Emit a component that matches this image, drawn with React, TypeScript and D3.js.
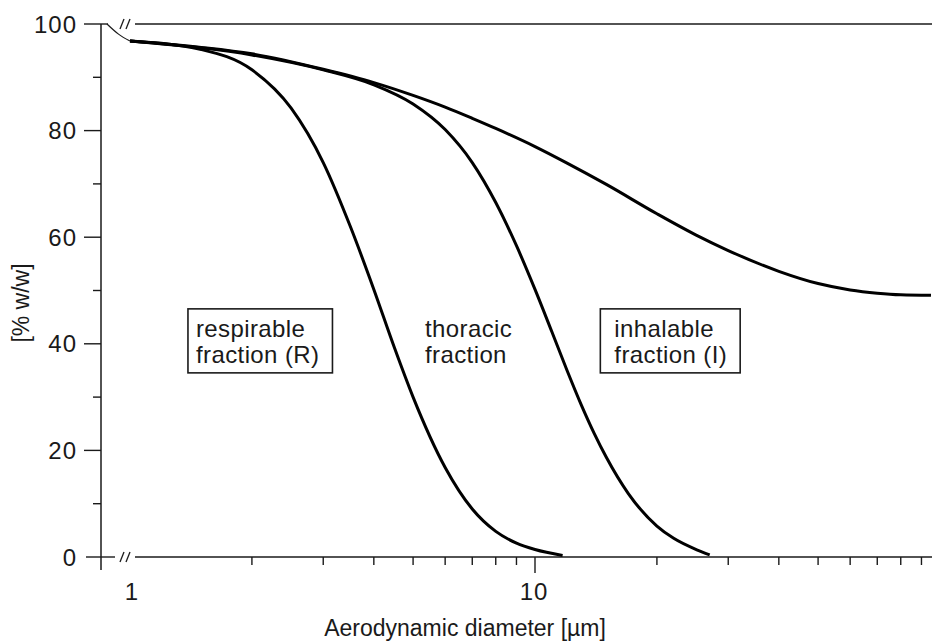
import React, { useEffect, useRef } from "react";
import * as d3 from "d3";

// values (diameter in µm, % w/w)
const inhalableD = [1, 1.5, 2, 3, 4, 5, 6, 7, 8, 10, 12, 15, 20, 25, 30, 40, 50, 60, 70, 80, 95];
const inhalableV = [96.8, 95.6, 94.4, 91.5, 89.0, 86.6, 84.4, 82.3, 80.4, 77.0, 73.9, 69.9, 64.4, 60.4, 57.5, 53.6, 51.3, 50.1, 49.5, 49.2, 49.1];

const thoracicD = [1, 2, 3, 4, 5, 6, 7, 8, 9, 10, 11, 12, 13, 14, 15, 17, 20, 22, 25, 27];
const thoracicV = [96.8, 94.2, 91.4, 88.6, 85.0, 80.2, 74.0, 66.5, 58.4, 50.2, 42.3, 35.0, 28.6, 23.2, 18.7, 11.9, 5.8, 3.5, 1.4, 0.4];

const respirableD = [1, 1.5, 2, 2.5, 3, 3.5, 4, 4.5, 5, 6, 7, 8, 9, 10, 11.7];
const respirableV = [96.8, 95.2, 91.4, 84.2, 74.0, 62.0, 50.2, 39.2, 30.0, 16.8, 9.0, 4.8, 2.6, 1.4, 0.3];

// thin piece in the axis break, 0..1 µm
const bridgeD = [0, 0.5, 1];
const bridgeV = [100, 98.1, 96.8];

const yMajor = [0, 20, 40, 60, 80, 100];
const yMinor = [10, 30, 50, 70, 90];
const xMajor = [1, 10];
const xMinor = [2, 3, 4, 5, 6, 7, 8, 9, 20, 30, 40, 50, 60, 70, 80, 90];

// label anchor: diameter of text start, % of first baseline
const labels = [
  { lines: ["respirable", "fraction (R)"], x: 1.455, y: 41.3, boxed: true, padL: 8 },
  { lines: ["thoracic", "fraction"], x: 5.35, y: 41.3, boxed: false, padL: 0 },
  { lines: ["inhalable", "fraction (I)"], x: 15.7, y: 41.3, boxed: true, padL: 14 },
];

const FONT = "'Liberation Sans', Arial, Helvetica, sans-serif";

export default function App() {
  const ref = useRef<SVGSVGElement>(null);

  useEffect(() => {
    const svg = d3.select(ref.current);
    svg.selectAll("*").remove();

    const axisX = 101;
    const x = d3.scaleLog().domain([1, 10]).range([130, 535]);
    const y = d3.scaleLinear().domain([0, 100]).range([557, 24]);
    const xb = d3.scaleLinear().domain([0, 1]).range([107, 130]);
    const ink = "#1a1a1a";

    // frame lines at 0 and 100
    [0, 100].forEach(v => {
      svg.append("line")
        .attr("x1", v === 100 ? 84 : 86).attr("x2", v === 100 ? 108 : 115)
        .attr("y1", y(v)).attr("y2", y(v))
        .attr("stroke", ink).attr("stroke-width", 1.4);
      svg.append("line")
        .attr("x1", 135).attr("x2", 932)
        .attr("y1", y(v)).attr("y2", y(v))
        .attr("stroke", ink).attr("stroke-width", 1.4);
      // break marks
      [120, 126].forEach(sx => {
        svg.append("line")
          .attr("x1", sx).attr("y1", y(v) + 5)
          .attr("x2", sx + 4).attr("y2", y(v) - 5)
          .attr("stroke", ink).attr("stroke-width", 1.3);
      });
    });

    // y axis
    svg.append("line")
      .attr("x1", axisX).attr("x2", axisX)
      .attr("y1", y(100)).attr("y2", 570)
      .attr("stroke", ink).attr("stroke-width", 1.5);

    yMajor.filter(v => v > 0 && v < 100).forEach(v => {
      svg.append("line")
        .attr("x1", 84).attr("x2", axisX)
        .attr("y1", y(v)).attr("y2", y(v))
        .attr("stroke", ink).attr("stroke-width", 1.4);
    });
    yMinor.forEach(v => {
      svg.append("line")
        .attr("x1", 93).attr("x2", axisX)
        .attr("y1", y(v)).attr("y2", y(v))
        .attr("stroke", ink).attr("stroke-width", 1.4);
    });
    yMajor.forEach(v => {
      svg.append("text")
        .attr("x", 77).attr("y", y(v))
        .attr("dy", "0.36em")
        .attr("text-anchor", "end")
        .attr("font-size", 24)
        .attr("letter-spacing", 1)
        .attr("font-family", FONT)
        .attr("fill", ink)
        .text(v);
    });

    // x ticks
    xMinor.forEach(v => {
      svg.append("line")
        .attr("x1", x(v)).attr("x2", x(v))
        .attr("y1", y(0)).attr("y2", y(0) + 8)
        .attr("stroke", ink).attr("stroke-width", 1.4);
    });
    xMajor.filter(v => v > 1).forEach(v => {
      svg.append("line")
        .attr("x1", x(v)).attr("x2", x(v))
        .attr("y1", y(0)).attr("y2", y(0) + 16)
        .attr("stroke", ink).attr("stroke-width", 1.4);
    });
    xMajor.forEach(v => {
      svg.append("text")
        .attr("x", x(v) + (v === 1 ? 2 : -1)).attr("y", 600)
        .attr("text-anchor", "middle")
        .attr("font-size", 24)
        .attr("letter-spacing", 1)
        .attr("font-family", FONT)
        .attr("fill", ink)
        .text(v);
    });

    // axis titles
    svg.append("text")
      .attr("x", 465).attr("y", 636)
      .attr("text-anchor", "middle")
      .attr("font-size", 23)
      .attr("font-family", FONT)
      .attr("fill", ink)
      .text("Aerodynamic diameter [µm]");

    svg.append("text")
      .attr("transform", `translate(29,${303}) rotate(-90)`)
      .attr("text-anchor", "middle")
      .attr("font-size", 23)
      .attr("font-family", FONT)
      .attr("fill", ink)
      .text("[% w/w]");

    // curves
    const line = d3.line<[number, number]>()
      .x(d => x(d[0]))
      .y(d => y(d[1]))
      .curve(d3.curveMonotoneX);

    const series = [
      d3.zip(inhalableD, inhalableV),
      d3.zip(thoracicD, thoracicV),
      d3.zip(respirableD, respirableV),
    ] as [number, number][][];

    series.forEach(s => {
      svg.append("path")
        .attr("d", line(s))
        .attr("fill", "none")
        .attr("stroke", "#000")
        .attr("stroke-width", 3)
        .attr("stroke-linecap", "butt");
    });

    const bridge = d3.line<[number, number]>()
      .x(d => xb(d[0]))
      .y(d => y(d[1]))
      .curve(d3.curveMonotoneX);
    svg.append("path")
      .attr("d", bridge(d3.zip(bridgeD, bridgeV) as [number, number][]))
      .attr("fill", "none")
      .attr("stroke", ink)
      .attr("stroke-width", 1.2);

    // fraction labels
    labels.forEach(b => {
      const tx = x(b.x);
      const ty = y(b.y);
      const g = svg.append("g");
      b.lines.forEach((t, i) => {
        g.append("text")
          .attr("x", tx).attr("y", ty + i * 26)
          .attr("font-size", 24)
          .attr("letter-spacing", 0.4)
          .attr("font-family", FONT)
          .attr("fill", ink)
          .text(t);
      });
      if (b.boxed) {
        const bb = (g.node() as SVGGElement).getBBox();
        g.insert("rect", "text")
          .attr("x", tx - b.padL).attr("y", ty - 28)
          .attr("width", bb.width + b.padL + 13).attr("height", 64)
          .attr("fill", "#fff")
          .attr("stroke", ink)
          .attr("stroke-width", 1.6);
      }
    });
  }, []);

  return (
    <svg
      ref={ref}
      width={932}
      height={642}
      style={{ position: "absolute", left: 0, top: 0, background: "#fff" }}
    />
  );
}
